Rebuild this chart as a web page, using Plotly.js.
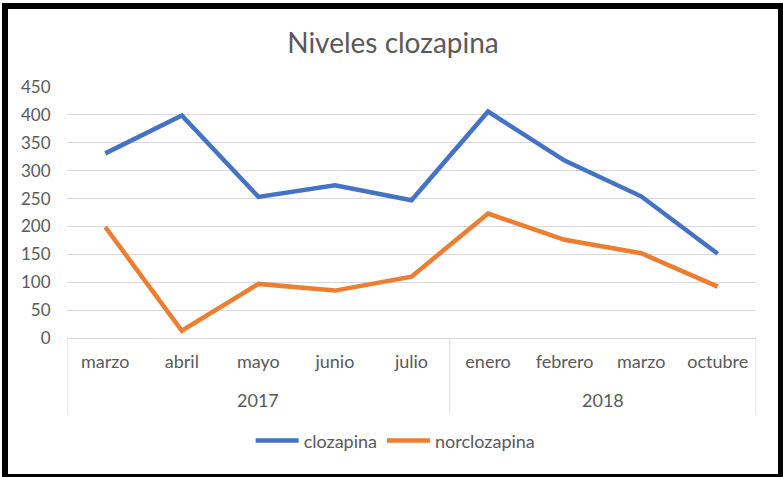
<!DOCTYPE html>
<html>
<head>
<meta charset="utf-8">
<script src="https://cdn.plot.ly/plotly-3.0.1.min.js"></script>
<style>
  html, body { margin: 0; padding: 0; background: #ffffff; }
  #frame { position: absolute; left: 2px; top: 3px; width: 770px; height: 465px;
           border-style: solid; border-color: #000; border-width: 6px 5px 3px 6px; background: #fff; }
  #chart { width: 770px; height: 465px; }
</style>
</head>
<body>
<div id="frame"><div id="chart"></div></div>
<script>
const years = ['2017','2017','2017','2017','2017','2018','2018','2018','2018'];
const months = ['marzo','abril','mayo','junio','julio','enero','febrero','marzo','octubre'];
const clozapina = [331, 399, 253, 274, 247, 406, 318, 254, 151];
const norclozapina = [199, 13, 97, 85, 110, 223, 176, 152, 92];
const yTicks = [0, 50, 100, 150, 200, 250, 300, 350, 400, 450];

const fontFam = 'Lato, "Open Sans", sans-serif';
const gray = '#595959';
const gridGray = '#d9d9d9';
const xIdx = months.map((m, i) => i);

// group years -> positions
const groups = [];
years.forEach((y, i) => {
  const g = groups[groups.length - 1];
  if (g && g.label === y) g.end = i; else groups.push({ label: y, start: i, end: i });
});

const traces = [
  { name: 'clozapina', type: 'scatter', mode: 'lines', x: xIdx, y: clozapina,
    line: { color: '#4472C4', width: 4.5 } },
  { name: 'norclozapina', type: 'scatter', mode: 'lines', x: xIdx, y: norclozapina,
    line: { color: '#ED7D31', width: 4.5 } }
];

const divY = -0.3;
const shapes = [];
const bounds = [groups[0].start - 0.5].concat(groups.map(g => g.end + 0.5));
bounds.forEach(b => shapes.push({ type: 'line', xref: 'x', yref: 'paper', x0: b, x1: b, y0: 0, y1: divY,
  line: { color: gridGray, width: 1 } }));

const annotations = groups.map(g => ({
  text: g.label, xref: 'x', yref: 'paper', x: (g.start + g.end) / 2, y: -0.247,
  xanchor: 'center', yanchor: 'middle', showarrow: false,
  font: { family: fontFam, size: 18, color: gray }
}));

const layout = {
  width: 770, height: 465,
  margin: { l: 59, r: 22, t: 78, b: 136 },
  paper_bgcolor: '#ffffff', plot_bgcolor: '#ffffff',
  font: { family: fontFam, size: 18, color: gray },
  title: { text: 'Niveles clozapina', font: { family: fontFam, size: 28, color: gray },
           x: 0.5, xref: 'container', xanchor: 'center', y: 1, yref: 'container', yanchor: 'top', pad: { t: 24 } },
  xaxis: {
    type: 'linear', range: [-0.5, months.length - 0.5], tickvals: xIdx, ticktext: months,
    showgrid: false, zeroline: false, showline: false,
    ticks: 'outside', ticklen: 7, tickcolor: 'rgba(0,0,0,0)',
    tickfont: { family: fontFam, size: 18, color: gray }
  },
  yaxis: {
    range: [0, 450], tickvals: yTicks, ticktext: yTicks.map(String),
    showgrid: true, gridcolor: gridGray, gridwidth: 1,
    zeroline: true, zerolinecolor: gridGray, zerolinewidth: 1,
    showline: false, ticks: 'outside', ticklen: 12, tickcolor: 'rgba(0,0,0,0)',
    tickfont: { family: fontFam, size: 17, color: gray }
  },
  shapes: shapes,
  annotations: annotations,
  showlegend: true,
  legend: { orientation: 'h', x: 0.477, xanchor: 'center', y: -0.41, yanchor: 'middle', itemwidth: 43,
            font: { family: fontFam, size: 18, color: gray }, bgcolor: 'rgba(0,0,0,0)' }
};

Plotly.newPlot('chart', traces, layout, { displayModeBar: false, staticPlot: true });
</script>
</body>
</html>
